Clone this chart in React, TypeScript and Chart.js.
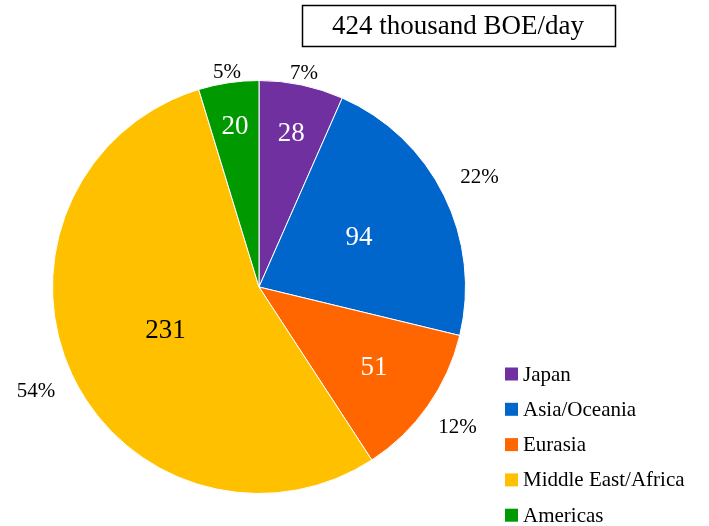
import React, { useEffect, useRef } from "react";
import { Chart, registerables } from "chart.js";

Chart.register(...registerables);

const categories = ["Japan", "Asia/Oceania", "Eurasia", "Middle East/Africa", "Americas"];
const values = [28, 94, 51, 231, 20];
const colors = ["#7030A0", "#0066CC", "#FF6600", "#FFC000", "#009900"];
const valueLabelColors = ["#ffffff", "#ffffff", "#ffffff", "#000000", "#ffffff"];
const titleText = "424 thousand BOE/day";

const FONT = "'Liberation Serif', serif";

const overlay = {
  id: "overlay",
  afterDraw(chart: any) {
    const ctx = chart.ctx as CanvasRenderingContext2D;
    const meta = chart.getDatasetMeta(0);
    const total = values.reduce((a, b) => a + b, 0);
    ctx.save();
    meta.data.forEach((arc: any, i: number) => {
      const { x, y, startAngle, endAngle, outerRadius } = arc.getProps(
        ["x", "y", "startAngle", "endAngle", "outerRadius"],
        true
      );
      const mid = (startAngle + endAngle) / 2;
      const frac = values[i] / total;
      // value inside
      const f = 0.5 + 0.35 * (1 - Math.min(1, frac * 4));
      const ir = outerRadius * f;
      ctx.font = `27px ${FONT}`;
      ctx.fillStyle = valueLabelColors[i];
      ctx.textAlign = "center";
      ctx.textBaseline = "middle";
      ctx.fillText(String(values[i]), x + Math.cos(mid) * ir, y + Math.sin(mid) * ir);
      // percent outside
      const pct = Math.round(frac * 100) + "%";
      ctx.font = `21px ${FONT}`;
      const hw = ctx.measureText(pct).width / 2;
      const hh = 2;
      const d = outerRadius + 4 + 2 * hw * Math.abs(Math.cos(mid)) + hh * Math.abs(Math.sin(mid));
      ctx.fillStyle = "#000";
      ctx.fillText(pct, x + Math.cos(mid) * d, y + Math.sin(mid) * d);
    });

    // title box
    ctx.font = `27px ${FONT}`;
    ctx.fillStyle = "#fff";
    ctx.fillRect(302, 5, 314, 42);
    ctx.strokeStyle = "#000";
    ctx.lineWidth = 1.5;
    ctx.strokeRect(302.5, 5.5, 313, 41);
    ctx.fillStyle = "#000";
    ctx.textAlign = "center";
    ctx.textBaseline = "middle";
    ctx.fillText(titleText, 458, 27);

    // legend
    ctx.font = `21px ${FONT}`;
    ctx.textAlign = "left";
    categories.forEach((c, i) => {
      const cy = 374 + i * 35.3;
      ctx.fillStyle = colors[i];
      ctx.fillRect(505, cy - 6.5, 13, 13);
      ctx.fillStyle = "#000";
      ctx.fillText(c, 523, cy + 1);
    });
    ctx.restore();
  },
};

export default function App() {
  const ref = useRef<HTMLCanvasElement>(null);
  useEffect(() => {
    const chart = new Chart(ref.current!, {
      type: "pie",
      data: {
        labels: categories,
        datasets: [
          {
            data: values,
            backgroundColor: colors,
            borderColor: "#ffffff",
            borderWidth: 1,
          },
        ],
      },
      options: {
        responsive: false,
        animation: false,
        layout: { padding: { left: 52, right: 243, top: 80, bottom: 32 } },
        plugins: { legend: { display: false }, tooltip: { enabled: false } },
      },
      plugins: [overlay],
    });
    return () => chart.destroy();
  }, []);
  return (
    <div style={{ position: "fixed", left: 0, top: 0, width: 709, height: 526, background: "#fff" }}>
      <canvas ref={ref} width={709} height={526} />
    </div>
  );
}
